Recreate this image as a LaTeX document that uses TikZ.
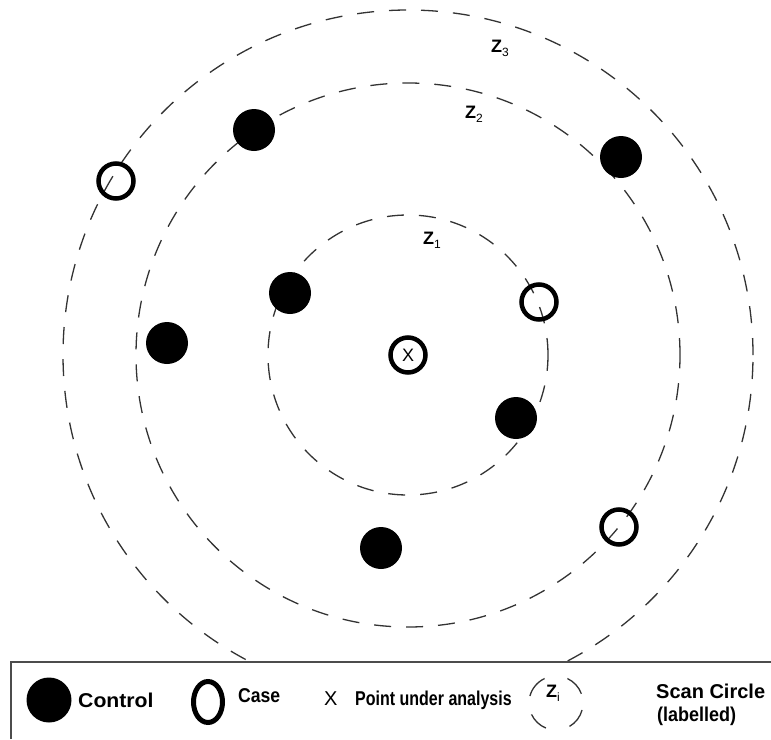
\documentclass[tikz,border=0pt]{standalone}
\usepackage{fontspec}
\setmainfont{Liberation Sans}
\usetikzlibrary{shapes.geometric}
\newcommand{\zsub}[1]{\textbf{Z}\raisebox{-4pt}{\fontsize{12}{13}\selectfont #1}}
\begin{document}
\begin{tikzpicture}[x=1pt,y=-1pt,
  scan/.style={draw=black!80, line width=1.3pt, dash pattern=on 17pt off 15pt},
  iconarc/.style={draw=black!80, line width=1.3pt},
  control/.style={circle, fill=black, minimum size=42pt, inner sep=0pt},
  case/.style={circle, draw=black, line width=4.5pt, minimum size=35pt, inner sep=0pt},
  zlbl/.style={font=\fontsize{18}{20}\selectfont, inner sep=0pt},
  legtext/.style={font=\bfseries\fontsize{20}{22}\selectfont, anchor=west, inner sep=0pt}]
\useasboundingbox (0,0) rectangle (771,739);
\coordinate (c) at (408,355);
% scan circles
\draw[scan] (c) circle[radius=140pt];
\draw[scan] (c) circle[radius=272pt];
\draw[scan] (c) circle[radius=345pt];
% labels
\node[zlbl] (z1) at (432,240) {\zsub{1}};
\node[zlbl] (z2) at (474,114) {\zsub{2}};
\node[zlbl] (z3) at (500,48) {\zsub{3}};
% controls
\node[control] (k1) at (254,130) {};
\node[control] (k2) at (621,157) {};
\node[control] (k3) at (290,293) {};
\node[control] (k4) at (167,343) {};
\node[control] (k5) at (516,418) {};
\node[control] (k6) at (381,548) {};
% cases
\node[case] (s1) at (116,181) {};
\node[case] (s2) at (539,302) {};
\node[case] (s3) at (619,527) {};
\node[case, font=\fontsize{18}{20}\selectfont] (x0) at (408,355) {X};
% legend
\fill[white] (10,662) rectangle (771,739);
\draw[line width=2pt, black!70] (11,739) -- (11,662) -- (771,662);
\node[circle, fill=black, minimum size=45pt, inner sep=0pt] (lc) at (49,700) {};
\node[legtext] (tc) at (78,700) {\scalebox{1.06}[1]{Control}};
\node[ellipse, draw=black, line width=5pt, minimum width=29pt, minimum height=41pt, inner sep=0pt] (ls) at (208,702) {};
\node[legtext] (ts) at (238,696) {\scalebox{0.88}[1]{Case}};
\node[legtext, font=\fontsize{20}{22}\selectfont] (tx) at (324,699) {X};
\node[legtext] (tp) at (355,700) {\scalebox{0.8}[1]{Point under analysis}};
\coordinate (ic) at (556,703);
\draw[iconarc] ([shift={(115:27pt)}]ic) arc[start angle=115, end angle=165, radius=27pt];
\draw[iconarc] ([shift={(65:27pt)}]ic) arc[start angle=65, end angle=20, radius=27pt];
\draw[iconarc] ([shift={(-15:27pt)}]ic) arc[start angle=-15, end angle=-60, radius=27pt];
\draw[iconarc] ([shift={(205:27pt)}]ic) arc[start angle=205, end angle=248, radius=27pt];
\node[zlbl] (zi) at (553,693) {\zsub{i}};
\node[legtext] (tsc) at (656,691) {Scan Circle};
\node[legtext] (tl) at (657,716) {\scalebox{0.9}[1]{(labelled)}};
\end{tikzpicture}
\end{document}
